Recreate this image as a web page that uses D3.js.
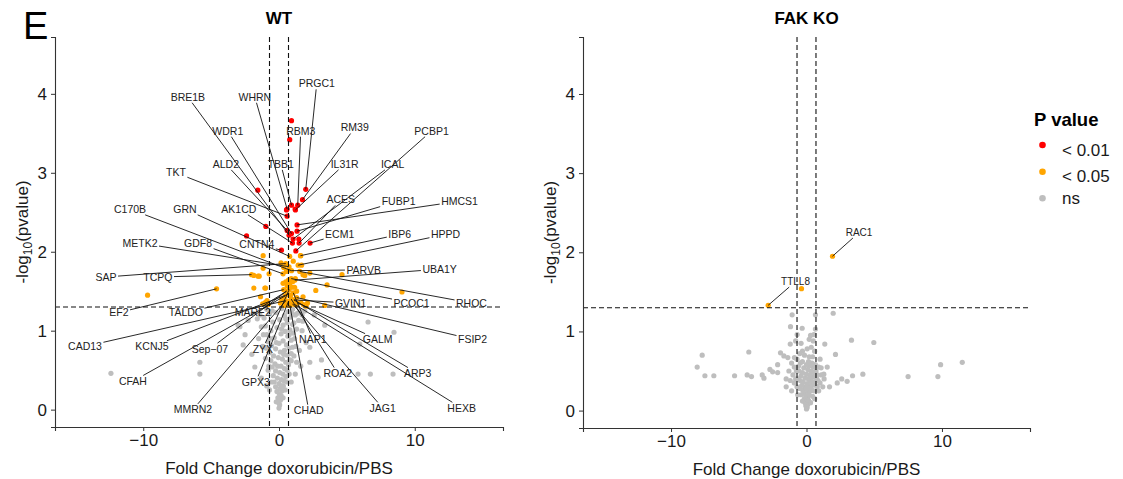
<!DOCTYPE html>
<html>
<head>
<meta charset="utf-8" />
<title>Volcano plots WT / FAK KO</title>
<script src="https://cdn.jsdelivr.net/npm/d3@7"></script>
<style>
body { margin: 0; background: #fff; }
text { font-family: "Liberation Sans", Arial, sans-serif; }
</style>
</head>
<body>
<svg id="chart" width="1123" height="479"></svg>

<script>
/* values: [fold change, -log10(p)] */
var wtRed = [[0.92,3.66],[0.79,3.42],[1.97,2.79],[1.73,2.66],[-1.56,2.78],[1.38,2.59],[0.6,2.54],[1.19,2.54],
	[0.92,2.59],[0.55,2.53],[0.6,2.45],[1.21,2.53],[-0.97,2.32],[-2.39,2.2],[1.33,2.34],[0.6,2.27],[0.92,2.23],
	[1.33,2.26],[1.04,2.16],[1.46,2.16],[1.48,2.11],[2.29,2.11],[0.18,2.02],[1.24,2.01],[0.99,2.11],[0.74,2.21]];

var wtOrange = [[-1.17,1.95],[0.79,1.94],[1.58,1.95],[0.5,1.85],[0.74,1.81],[1.41,1.83],[0.55,1.75],[0.92,1.76],
	[1.53,1.75],[2.27,1.73],[3.54,1.58],[0.3,1.72],[-1.85,1.7],[-1.46,1.69],[-0.73,1.72],[-1.04,1.54],[-1.85,1.54],
	[0.3,1.6],[1.16,1.64],[1.9,1.7],[2.71,1.51],[-1.36,1.43],[-0.88,1.38],[1.77,1.43],[-1.17,1.79],[-2.02,1.71],
	[-1.54,1.69],[-0.99,1.54],[-4.6,1.53],[-9.68,1.45],[4.64,1.71],[9.06,1.49],[1.77,1.71],[1.66,1.83],[1.6,1.95],
	[0.4,1.32],[0.6,1.33],[0.8,1.32],[1.0,1.34],[1.2,1.33],[1.4,1.35],[0.5,1.38],[0.7,1.37],[0.9,1.4],[1.1,1.39],
	[1.3,1.42],[0.45,1.44],[0.65,1.46],[0.85,1.45],[1.05,1.48],[0.55,1.5],[0.75,1.52],[0.95,1.55],[0.6,1.57],
	[0.8,1.6],[0.7,1.64],[0.9,1.66],[0.5,1.62],[-0.8,1.33],[-1.0,1.36],[-1.2,1.34],[1.6,1.36],[1.8,1.33],[3.37,1.32],
	[2.1,1.35],[2.0,1.31],[0.2,1.4],[0.1,1.35],[1.15,1.55],[1.3,1.5],[0.35,1.52],[1.0,1.62],[1.2,1.66],[0.35,1.8],
	[0.15,1.86],[1.05,1.88]];

var wtGray = [[0.0,0.02],[0.05,0.06],[-0.05,0.09],[0.1,0.12],[-0.08,0.15],[0.15,0.18],[0.02,0.2],
	[-0.15,0.23],[0.22,0.24],[0.08,0.27],[-0.25,0.29],[0.32,0.3],[0.0,0.33],[-0.35,0.35],[0.4,0.36],[0.18,0.38],[-0.12,0.4],
	[0.5,0.42],[-0.42,0.43],[0.28,0.45],[0.05,0.47],[-0.25,0.49],[0.6,0.5],[0.4,0.52],[-0.5,0.54],[0.15,0.55],[0.7,0.57],
	[-0.3,0.58],[0.5,0.6],[-0.6,0.62],[0.8,0.63],[0.25,0.64],[-0.05,0.66],[-0.4,0.68],[0.6,0.69],[0.9,0.71],[-0.7,0.72],
	[0.1,0.73],[0.4,0.75],[-0.25,0.77],[0.75,0.78],[1.0,0.79],[-0.55,0.81],[0.55,0.82],[0.0,0.84],[-0.8,0.86],[0.3,0.87],
	[0.9,0.88],[1.15,0.9],[-0.35,0.91],[0.65,0.93],[-0.9,0.95],[0.15,0.96],[1.05,0.97],[0.45,0.99],[-0.6,1.0],[0.8,1.01],
	[1.3,1.02],[-0.15,1.04],[-1.0,1.06],[0.3,1.07],[1.0,1.08],[0.6,1.1],[-0.45,1.11],[1.45,1.13],[0.05,1.14],[-1.1,1.16],
	[0.85,1.17],[0.4,1.19],[1.2,1.2],[-0.7,1.21],[-0.2,1.23],[0.65,1.24],[1.55,1.25],[1.0,1.27],[0.2,1.28],[-0.9,1.27],
	[-0.95,0.78],[-0.65,0.9],[-1.15,0.95],[1.25,0.8],[1.1,1.1],[1.35,1.22],[-0.5,1.25],[0.5,1.15],[0.75,0.95],[0.2,1.02],
	[-0.2,0.85],[0.35,0.7],[-0.1,0.55],[0.2,0.3],[-0.2,0.1],[0.3,0.15],[0.45,0.25],[0.6,0.35],[-0.55,0.35],[0.75,0.45],
	[0.9,0.62],[-0.75,0.55],[1.1,0.68],[-1.4,1.2],[1.7,1.2],[0.95,1.22],
	[-0.8,0.5],[-1.0,0.65],[-1.2,0.8],[-1.5,0.9],[-1.78,0.54],[-2.0,0.7],[-1.3,0.4],[-0.9,0.3],[-2.5,0.95],[-2.88,1.05],
	[-2.64,0.82],[-2.27,1.13],[-3.01,1.07],[-1.6,1.15],[-1.3,1.05],[-1.9,1.22],[1.3,0.6],[1.5,0.75],[1.7,1.0],[1.2,0.45],
	[0.9,0.35],[2.0,0.85],[2.27,0.79],[2.27,0.6],[2.88,0.41],[3.13,0.63],[3.37,1.07],[2.6,1.2],[1.9,1.25],[1.75,1.12],
	[-0.7,0.25],[1.6,0.55],
	[-12.38,0.46],[-5.83,0.6],[-5.83,0.45],[5.95,0.83],[6.56,1.11],[8.47,0.98],[5.82,0.45],[6.73,0.45],[8.4,0.45]];

/* WT gene labels: label position and the point it points at */
var wtNames = ["PRGC1","WHRN","BRE1B","RBM3","RM39","PCBP1","WDR1","ALD2","TBB1","IL31R","ICAL","TKT","ACES",
	"FUBP1","HMCS1","C170B","GRN","AK1CD","ECM1","IBP6","HPPD","METK2","GDF8","CNTN4","SAP","TCPQ","PARVB","UBA1Y",
	"EF2","TALDO","MARE2","GVIN1","PCOC1","RHOC","CAD13","KCNJ5","Sep\u221207","ZYX","NAP1","GALM","FSIP2","CFAH",
	"GPX3","ROA2","ARP3","MMRN2","CHAD","JAG1","HEXB"];
var wtLabelPos = [[2.78,4.13],[-1.78,3.96],[-6.71,3.96],[1.6,3.53],[5.58,3.57],[11.24,3.53],[-3.77,3.53],[-3.91,3.11],
	[0.13,3.11],[4.84,3.11],[8.37,3.11],[-7.59,3.0],[4.55,2.66],[8.81,2.64],[13.3,2.64],[-10.97,2.54],[-6.93,2.54],
	[-2.96,2.54],[4.47,2.22],[8.89,2.22],[12.27,2.22],[-10.24,2.11],[-5.96,2.11],[-1.63,2.09],[-12.74,1.68],[-8.92,1.68],
	[6.24,1.77],[11.83,1.78],[-11.79,1.23],[-6.86,1.23],[-1.93,1.23],[5.28,1.35],[9.77,1.35],[14.18,1.35],[-14.29,0.8],
	[-9.36,0.8],[-5.09,0.77],[-1.19,0.77],[2.49,0.89],[7.27,0.89],[14.26,0.89],[-10.76,0.36],[-1.71,0.35],[4.33,0.46],
	[10.21,0.46],[-6.34,0.0],[2.19,-0.01],[7.64,0.02],[13.45,0.02]];
var wtLabelTarget = [[1.97,2.79],[0.6,2.54],[0.74,2.21],[1.38,2.59],[1.73,2.66],[1.24,2.01],[0.92,2.23],[0.6,2.27],
	[0.92,2.59],[1.21,2.53],[1.04,2.16],[0.6,2.45],[1.48,2.11],[1.33,2.26],[1.33,2.34],[0.92,1.76],[0.79,1.94],
	[0.99,2.11],[2.29,2.11],[1.58,1.95],[1.41,1.83],[0.74,1.81],[0.3,1.72],[0.18,2.02],[0.5,1.85],[-2.02,1.71],
	[0.92,1.76],[1.16,1.64],[-4.6,1.53],[0.35,1.52],[0.55,1.5],[1.1,1.39],[0.9,1.66],[1.53,1.75],[0.5,1.38],
	[0.65,1.46],[0.55,1.5],[0.75,1.52],[1.05,1.48],[1.4,1.35],[1.3,1.42],[0.45,1.44],[0.7,1.37],[0.9,1.4],
	[1.1,1.39],[0.5,1.38],[0.8,1.32],[1.0,1.34],[1.2,1.33]];

var koOrange = [[1.92,1.95],[-0.37,1.54],[-2.83,1.33]];

var koGray = [[0.0,0.02],[0.05,0.04],[-0.05,0.06],[0.1,0.08],[-0.1,0.1],[0.02,0.12],[0.15,0.13],[-0.15,0.15],
	[0.08,0.17],[-0.05,0.19],[0.2,0.2],[-0.2,0.22],[0.12,0.24],[0.28,0.25],[-0.28,0.26],[0.0,0.27],[0.35,0.28],
	[-0.12,0.3],[0.22,0.31],[-0.35,0.32],[0.4,0.33],[0.05,0.34],[-0.25,0.36],[0.3,0.37],[0.5,0.36],[-0.45,0.38],
	[0.15,0.4],[-0.1,0.41],[0.45,0.42],[-0.4,0.44],[0.6,0.44],[0.25,0.45],[0.0,0.46],[-0.3,0.48],[0.55,0.48],
	[-0.55,0.5],[0.35,0.5],[0.1,0.52],[0.7,0.5],[-0.2,0.54],[0.5,0.55],[-0.6,0.56],[0.25,0.57],[0.0,0.58],[0.65,0.58],
	[-0.45,0.6],[0.4,0.6],[0.15,0.62],[-0.3,0.62],[0.8,0.3],[0.9,0.25],[1.0,0.35],[0.75,0.4],[-0.7,0.3],[-0.8,0.4],
	[-0.9,0.35],[-1.0,0.45],[-1.2,0.38],[-1.5,0.4],[-1.3,0.5],[-0.9,0.55],[-1.1,0.6],[1.1,0.45],[1.3,0.4],[0.9,0.55],
	[1.0,0.65],[-0.7,0.65],[0.45,0.68],[-1.2,0.84],[-0.8,0.88],[0.35,0.8],[0.2,0.9],[-0.3,0.75],[0.6,0.75],
	[0.3,0.1],[-0.3,0.12],[0.45,0.18],[-0.4,0.2],[0.55,0.25],[-0.5,0.28],[0.65,0.32],[-0.6,0.4],[0.8,0.45],
	[-0.75,0.5],[0.85,0.38],[-0.65,0.2],[0.6,0.15],[0.2,0.68],[-0.15,0.7],[0.05,0.78],[-0.5,0.72],[0.5,0.88],
	[0.3,0.95],[-0.4,0.85],[1.2,0.3],[-1.1,0.25],
	[-1.06,1.21],[0.66,1.21],[1.97,1.23],[-1.18,1.06],[-0.32,1.04],[-0.69,0.96],[0.66,1.03],[0.54,0.96],[1.35,0.84],
	[3.32,0.89],[4.97,0.86],[4.16,0.46],[3.4,0.44],[2.14,0.71],[-4.26,0.74],[-7.7,0.7],[-7.5,0.44],[-6.84,0.44],
	[-5.31,0.44],[-4.38,0.45],[-4.06,0.43],[-3.27,0.45],[-3.14,0.41],[-2.5,0.49],[-2.13,0.48],[-1.92,0.73],
	[-1.67,0.69],[-2.13,0.58],[-1.38,0.67],[-0.89,0.67],[3.0,0.37],[2.27,0.35],[1.53,0.55],[1.28,0.46],[1.08,0.54],
	[-8.07,0.55],[7.5,0.43],[9.7,0.43],[9.9,0.58],[11.5,0.61],[2.6,0.4],[-2.7,0.52],[-1.5,0.3],[1.7,0.3]];

var koNames = ["RAC1","TTLL8"];
var koLabelPos = [[3.88,2.25],[-0.81,1.63]];
var koLabelTarget = [[1.92,1.95],[-2.83,1.33]];

var xTicks = [-10, 0, 10];
var yTicks = [0, 1, 2, 3, 4];
var legendLabels = ["< 0.01", "< 0.05", "ns"];
var legendColors = ["#ff0000", "#ffa500", "#bebebe"];

var fcCut = 0.7,   // fold change cut-offs
    pCut  = 1.3;   // -log10(0.05)

var svg = d3.select("#chart");

function zipLabels(names, pos, tgt) {
	return names.map(function(n, i) {
		return { name: n, lx: pos[i][0], ly: pos[i][1], tx: tgt[i][0], ty: tgt[i][1] };
	});
}

function drawPanel(o) {
	var w = o.width, h = o.height;
	var g = svg.append("g").attr("transform", "translate(" + o.left + "," + o.top + ")");

	var x = d3.scaleLinear().domain([-16.5, 16.5]).range([0, w]);
	var y = d3.scaleLinear().domain([-0.22, 4.72]).range([h, 0]);

	// points
	var pts = g.append("g");
	[[o.gray, "#bebebe"], [o.orange, "#ffa500"], [o.red, "#ff0000"]].forEach(function(s) {
		pts.selectAll(null).data(s[0]).enter().append("circle")
			.attr("cx", function(d) { return x(d[0]); })
			.attr("cy", function(d) { return y(d[1]); })
			.attr("r", 2.6)
			.attr("fill", s[1]);
	});

	// cut-off lines
	var cuts = g.append("g").attr("stroke", "#111").attr("stroke-width", 1.1).attr("stroke-dasharray", "5,3").attr("fill", "none");
	[-fcCut, fcCut].forEach(function(v) {
		cuts.append("line").attr("x1", x(v)).attr("x2", x(v)).attr("y1", 0).attr("y2", h);
	});
	cuts.append("line").attr("x1", 0).attr("x2", w).attr("y1", y(pCut)).attr("y2", y(pCut));

	// labels with leader lines
	var lab = g.append("g");
	lab.selectAll(null).data(o.labels).enter().append("g").each(function(d) {
		var sel = d3.select(this);
		var cx = x(d.lx), cy = y(d.ly);
		var t = sel.append("text")
			.attr("x", cx).attr("y", cy).attr("dy", "0.35em")
			.attr("text-anchor", "middle")
			.style("font-size", o.labelSize + "px")
			.attr("fill", "#222")
			.text(d.name);
		var hw = t.node().getComputedTextLength() / 2 + 1.5, hh = o.labelSize / 2 + 0.5;
		var tx = x(d.tx), ty = y(d.ty);
		var dx = tx - cx, dy = ty - cy;
		var s = Math.min(dx ? hw / Math.abs(dx) : Infinity, dy ? hh / Math.abs(dy) : Infinity);
		if (s < 1) {
			sel.insert("line", "text")
				.attr("x1", cx + s * dx).attr("y1", cy + s * dy)
				.attr("x2", tx).attr("y2", ty)
				.attr("stroke", "#111").attr("stroke-width", 0.9);
		}
	});

	// axes
	var ax = g.append("g").attr("transform", "translate(0," + h + ")")
		.call(d3.axisBottom(x).tickValues(xTicks).tickSizeOuter(0).tickSize(4).tickPadding(3));
	var ay = g.append("g")
		.call(d3.axisLeft(y).tickValues(yTicks).tickFormat(d3.format("d")).tickSizeOuter(0).tickSize(4).tickPadding(4));
	[ax, ay].forEach(function(a) {
		a.select(".domain").attr("stroke", "#333").attr("stroke-width", 1.1);
		a.selectAll(".tick line").attr("stroke", "#333");
		a.selectAll(".tick text").attr("fill", "#1a1a1a").style("font-size", "17px")
			.style("font-family", "'Liberation Sans', Arial, sans-serif");
	});

	// titles
	g.append("text").attr("x", w / 2).attr("y", -13).attr("text-anchor", "middle")
		.style("font-size", "17px").style("font-weight", "bold").text(o.title);
	g.append("text").attr("x", w / 2).attr("y", h + 47).attr("text-anchor", "middle")
		.style("font-size", "17px").attr("fill", "#1a1a1a").text("Fold Change doxorubicin/PBS");
	var yl = g.append("text")
		.attr("transform", "translate(" + (-27) + "," + (h / 2) + ") rotate(-90)")
		.attr("text-anchor", "middle")
		.style("font-size", "17px").attr("fill", "#1a1a1a");
	yl.append("tspan").text("-log");
	yl.append("tspan").attr("dy", 4).style("font-size", "12px").text("10");
	yl.append("tspan").attr("dy", -4).text("(pvalue)");
}

drawPanel({ left: 55, top: 37, width: 448, height: 390, title: "WT",
	gray: wtGray, orange: wtOrange, red: wtRed, labelSize: 10.5,
	labels: zipLabels(wtNames, wtLabelPos, wtLabelTarget) });

drawPanel({ left: 583, top: 37, width: 447, height: 391, title: "FAK KO",
	gray: koGray, orange: koOrange, red: [], labelSize: 10,
	labels: zipLabels(koNames, koLabelPos, koLabelTarget) });

// panel letter
svg.append("text").attr("x", 23).attr("y", 39).style("font-size", "38px").text("E");

// legend
var leg = svg.append("g");
leg.append("text").attr("x", 1034).attr("y", 126).style("font-size", "18.5px").style("font-weight", "bold").text("P value");
var legY = [145, 171.7, 198.3], legBase = [155.5, 182, 203.5];
legendLabels.forEach(function(l, i) {
	leg.append("circle").attr("cx", 1042.5).attr("cy", legY[i]).attr("r", 3.3).attr("fill", legendColors[i]);
	leg.append("text").attr("x", 1062).attr("y", legBase[i]).style("font-size", "17px").attr("fill", "#1a1a1a").text(l);
});
</script>
</body>
</html>
